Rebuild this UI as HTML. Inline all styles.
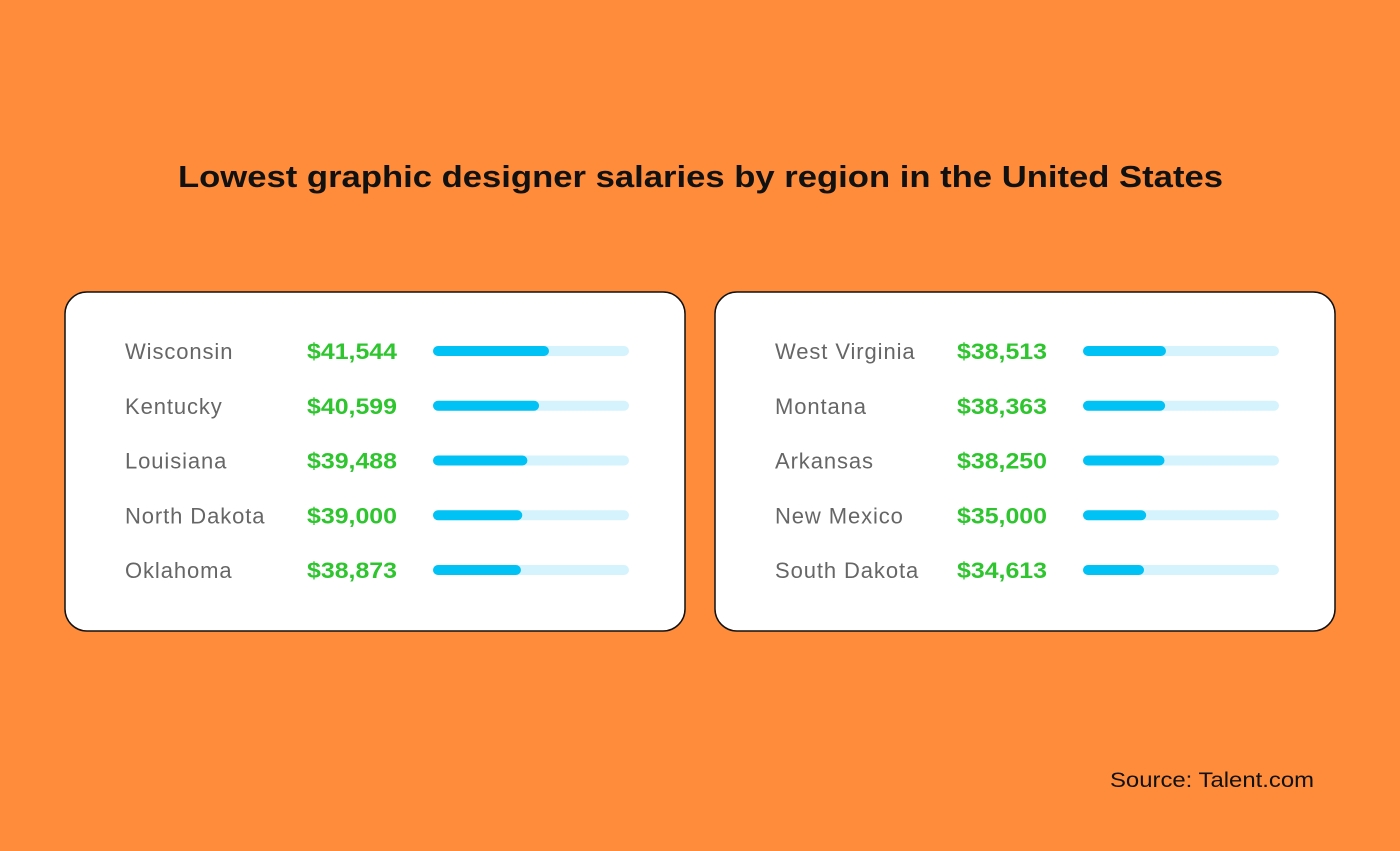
<!DOCTYPE html>
<html><head><meta charset="utf-8"><style>
html,body{margin:0;padding:0;width:1400px;height:851px;overflow:hidden;background:#ff8c3b;font-family:"Liberation Sans",sans-serif}
</style></head><body>
<svg id="chart" width="1400" height="851" xmlns="http://www.w3.org/2000/svg">
<rect width="1400" height="851" fill="#ff8c3b"/>
<text x="178" y="187" textLength="1045" lengthAdjust="spacingAndGlyphs" font-size="31" font-weight="bold" fill="#111">Lowest graphic designer salaries by region in the United States</text>
<rect x="65" y="292" width="620" height="339" rx="22" fill="#fff" stroke="#111" stroke-width="1.5"/>
<rect x="715" y="292" width="620" height="339" rx="22" fill="#fff" stroke="#111" stroke-width="1.5"/>
<text x="1110" y="787" textLength="204" lengthAdjust="spacingAndGlyphs" font-size="21" fill="#111">Source: Talent.com</text>
<g id="rows"></g>
</svg>
<script>
const leftStates=["Wisconsin","Kentucky","Louisiana","North Dakota","Oklahoma"];
const leftValues=[41544,40599,39488,39000,38873];
const leftDomain=[30500,49160];
const rightStates=["West Virginia","Montana","Arkansas","New Mexico","South Dakota"];
const rightValues=[38513,38363,38250,35000,34613];
const rightDomain=[23800,58550];
const NS="http://www.w3.org/2000/svg";
const g=document.getElementById('rows');
const trackW=196;
function xScale(dom){return v=>Math.max(0,(v-dom[0])/(dom[1]-dom[0])*trackW);}
function fmt(v){return '$'+v.toLocaleString('en-US');}
function panel(states,values,dom,ox){
  const x=xScale(dom);
  states.forEach((s,i)=>{
    const cy=351+i*54.75;
    const t=document.createElementNS(NS,'text');
    t.setAttribute('x',ox+60);t.setAttribute('y',cy+8);t.setAttribute('font-size','22');t.setAttribute('fill','#666');t.setAttribute('letter-spacing','0.9');
    t.textContent=s;
    
    
    g.appendChild(t);
    const v=document.createElementNS(NS,'text');
    v.setAttribute('x',ox+242);v.setAttribute('y',cy+8);v.setAttribute('font-size','22');v.setAttribute('font-weight','bold');v.setAttribute('fill','#2ec52e');
    v.setAttribute('textLength','90');v.setAttribute('lengthAdjust','spacingAndGlyphs');
    v.textContent=fmt(values[i]);
    
    
    g.appendChild(v);
    const tr=document.createElementNS(NS,'rect');
    tr.setAttribute('x',ox+368);tr.setAttribute('y',cy-5);tr.setAttribute('width',trackW);tr.setAttribute('height',10);tr.setAttribute('rx',5);tr.setAttribute('fill','#d4f3fd');
    
    
    g.appendChild(tr);
    const b=document.createElementNS(NS,'rect');
    b.setAttribute('x',ox+368);b.setAttribute('y',cy-5);b.setAttribute('width',x(values[i]));b.setAttribute('height',10);b.setAttribute('rx',5);b.setAttribute('fill','#00c2f5');
    
    
    g.appendChild(b);
  });
}
panel(leftStates,leftValues,leftDomain,65);
panel(rightStates,rightValues,rightDomain,715);
</script>
</body></html>
